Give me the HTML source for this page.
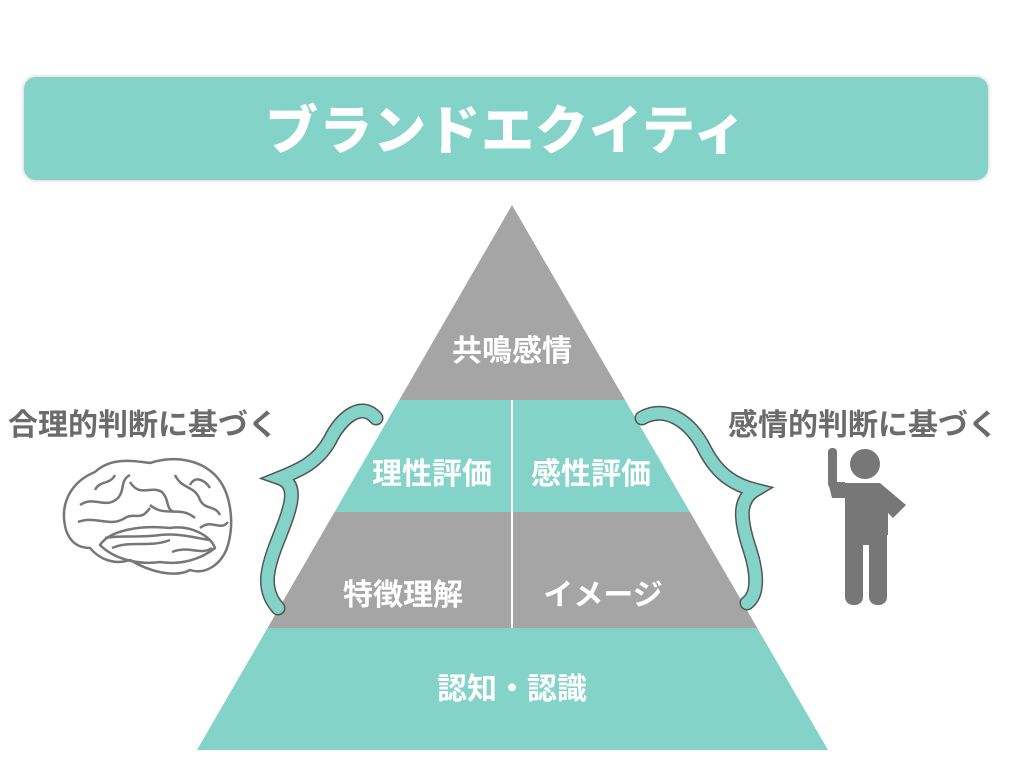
<!DOCTYPE html>
<html><head><meta charset="utf-8"><style>
body{margin:0;width:1024px;height:768px;background:#fff;overflow:hidden;position:relative;font-family:"Liberation Sans","Noto Sans CJK JP",sans-serif}
.bar{position:absolute;left:24px;top:77px;width:964px;height:103px;background:#84d3c8;border-radius:12px;box-shadow:0 0 4px rgba(0,0,0,.25)}
.bar div{color:#fff;font-weight:900;font-size:53px;text-align:center;line-height:110px;letter-spacing:1px}
.t{position:absolute;font-weight:bold;color:#fff;font-size:30px;line-height:30px;white-space:nowrap;transform:translate(-50%,-50%)}
.s{position:absolute;font-weight:bold;color:#6b6b6b;font-size:30px;white-space:nowrap}
</style></head><body>
<div class="bar"><div>ブランドエクイティ</div></div>
<svg width="1024" height="768" style="position:absolute;left:0;top:0">
<defs><clipPath id="p"><polygon points="512,205 197,750 828,750"/></clipPath></defs>
<g clip-path="url(#p)">
<rect x="0" y="200" width="1024" height="200" fill="#a5a5a5"/>
<rect x="0" y="400" width="1024" height="112" fill="#84d3c8"/>
<rect x="0" y="512" width="1024" height="116" fill="#a5a5a5"/>
<rect x="0" y="628" width="1024" height="130" fill="#84d3c8"/>
<line x1="512" y1="400" x2="512" y2="628" stroke="#fff" stroke-width="2"/>
</g>
<path d="M376,418 C360,400 340,420 330,440 C318,462 300,470 280,478 C300,485 290,510 278,540 C266,570 262,590 278,608" fill="none" stroke="#555" stroke-width="15" stroke-linecap="round"/>
<path d="M376,418 C360,400 340,420 330,440 C318,462 300,470 280,478 C300,485 290,510 278,540 C266,570 262,590 278,608" fill="none" stroke="#84d3c8" stroke-width="12" stroke-linecap="round"/>
<path d="M642,418 C665,405 690,420 705,450 C718,475 735,485 755,490 C738,500 740,520 750,550 C758,575 758,595 747,603" fill="none" stroke="#555" stroke-width="15" stroke-linecap="round"/>
<path d="M642,418 C665,405 690,420 705,450 C718,475 735,485 755,490 C738,500 740,520 750,550 C758,575 758,595 747,603" fill="none" stroke="#84d3c8" stroke-width="12" stroke-linecap="round"/>
<g fill="none" stroke="#777" stroke-width="2.5" stroke-linejoin="round">
<path d="M66,530 C58,500 75,480 95,472 C110,458 130,460 150,463 C175,455 200,460 215,475 C230,490 235,520 228,545 C222,565 205,575 190,570 C175,578 150,572 130,560 C115,565 100,560 90,548 C78,548 70,542 66,530Z"/>
<path d="M100,545 C110,530 140,525 170,528 C190,525 210,535 215,548 C200,560 180,565 160,562 C140,565 115,560 100,545Z"/>
<path d="M80,505 C95,495 105,510 118,498 C125,490 120,480 130,475 M130,482 C140,498 150,485 162,492 C170,500 165,510 175,512 M175,475 C182,490 195,485 200,500 C205,510 215,505 220,515 M78,522 C95,515 110,528 125,518 C135,512 140,522 150,508 M150,505 C165,518 180,505 195,518 M200,528 C212,518 220,532 228,522 M112,548 C130,540 150,548 170,540 M172,552 C190,545 200,556 212,548 M105,538 C120,535 140,538 160,535 C180,533 195,538 210,540 M95,490 C100,480 110,485 115,475 M190,485 C195,475 205,480 210,488"/>
</g>
<g fill="#777">
<circle cx="865" cy="464" r="15"/>
<rect x="828" y="448" width="9" height="40" rx="4"/>
<path d="M828,482 L845,482 L845,483 L880,483 L906,505 L893,518 L888,513 L888,535 L845,535 L845,498 L832,498 Z"/>
<rect x="845" y="530" width="18" height="75" rx="8"/>
<rect x="869" y="530" width="18" height="75" rx="8"/>
<rect x="845" y="525" width="42" height="20"/>
</g>
</svg>
<div class="t" style="left:512px;top:352px">共鳴感情</div>
<div class="t" style="left:432px;top:475px">理性評価</div>
<div class="t" style="left:591px;top:475px">感性評価</div>
<div class="t" style="left:403px;top:596px">特徴理解</div>
<div class="t" style="left:603px;top:596px">イメージ</div>
<div class="t" style="left:512px;top:690px">認知・認識</div>
<div class="s" style="left:8px;top:400px">合理的判断に基づく</div>
<div class="s" style="left:728px;top:400px">感情的判断に基づく</div>
</body></html>
